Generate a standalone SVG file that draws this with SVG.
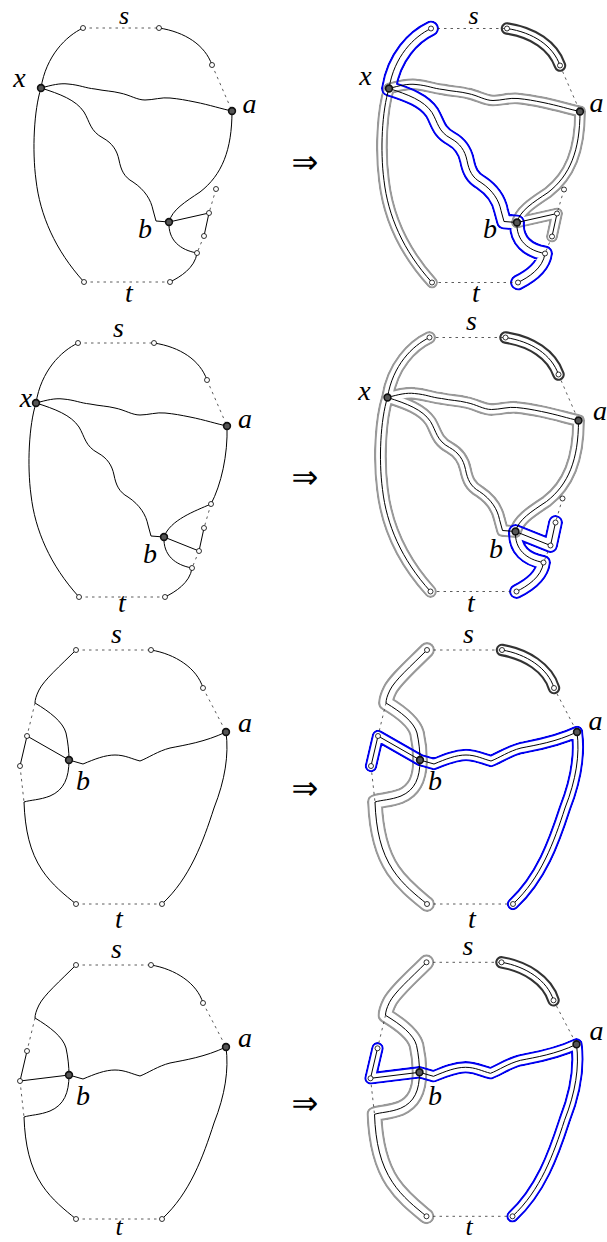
<svg xmlns="http://www.w3.org/2000/svg" xmlns:xlink="http://www.w3.org/1999/xlink" width="607" height="1242" viewBox="0 0 607 1242">
<style>
.e{fill:none;stroke:#000;stroke-width:1}
.d{fill:none;stroke:#333;stroke-width:0.8;stroke-dasharray:2.5 4}
.sn{fill:#fff;stroke:#000;stroke-width:0.8}
.bn{fill:#555;stroke:#111;stroke-width:1.6}
.lbl{font-family:"Liberation Serif",serif;font-style:italic;font-size:28px;text-anchor:middle;fill:#000}
.lbl2{font-family:"Liberation Serif",serif;font-style:italic;font-size:26px;text-anchor:middle;fill:#000}
.arr{font-family:"DejaVu Sans",sans-serif;font-size:32px;text-anchor:middle;fill:#000}
.bd{fill:none;stroke-linejoin:round;stroke-linecap:round}
</style>
<defs>
<circle id="sn" r="2.5"/>
<circle id="bn" r="3.4"/>
<path id="e1sx" d="M83,28 C66,36 46,56 41,88"/>
<path id="e1xa" d="M41,88 C52,85 60,83 68,84 C80,85 85,88 95,89 C105,91 112,91 120,93 C130,95 137,100 145,100 C153,100 162,97 170,98 C180,99 185,100 195,102 C210,105 222,109 232,111"/>
<path id="e1xb" d="M41,88 C60,94 76,100 84,112 C90,122 90,131 103,138 C112,143 117,150 119,160 C121,170 124,177 133,182 C145,190 151,200 153,210 L156,221 L169,222"/>
<path id="e1xt" d="M41,88 C34,110 32,150 36,180 C40,215 55,250 84,282"/>
<path id="e1s2p" d="M159,28 C185,32 205,45 212,65"/>
<path id="e1ab" d="M232,111 C232,150 222,175 200,192 C185,202 172,210 169,222"/>
<path id="e2ab" d="M232,111 C233,140 226,170 216,189 C200,196 175,205 169,222"/>
<path id="e1bq4" d="M169,222 C168,240 180,250 197,253"/>
<path id="e1q4t" d="M197,253 C195,268 180,277 170,282"/>
<path id="b1blue" d="M83,28 C66,36 46,56 41,88 C60,94 76,100 84,112 C90,122 90,131 103,138 C112,143 117,150 119,160 C121,170 124,177 133,182 C145,190 151,200 153,210 L156,221 L169,222 C168,240 180,250 197,253 C195,268 180,277 170,282"/>
<path id="b1gray" d="M84,282 C55,250 40,215 36,180 C32,150 34,110 41,88 C52,85 60,83 68,84 C80,85 85,88 95,89 C105,91 112,91 120,93 C130,95 137,100 145,100 C153,100 162,97 170,98 C180,99 185,100 195,102 C210,105 222,109 232,111 C232,150 222,175 200,192 C185,202 172,210 169,222 L209,213 L204,236"/>
<path id="b2gray" d="M83,28 C66,36 46,56 41,88 C34,110 32,150 36,180 C40,215 55,250 84,282 M41,88 C52,85 60,83 68,84 C80,85 85,88 95,89 C105,91 112,91 120,93 C130,95 137,100 145,100 C153,100 162,97 170,98 C180,99 185,100 195,102 C210,105 222,109 232,111 C232,150 222,175 200,192 C185,202 172,210 169,222 M41,88 C60,94 76,100 84,112 C90,122 90,131 103,138 C112,143 117,150 119,160 C121,170 124,177 133,182 C145,190 151,200 153,210 L156,221 L169,222"/>
<path id="b2blue" d="M209,213 L204,236 L169,222 C168,240 180,250 197,253 C195,268 180,277 170,282"/>
<path id="e3sj" d="M76,650 C60,666 44,680 39,690 C36,696 35,700 35,703"/>
<path id="e3jb" d="M35,703 C50,712 63,722 66,733 C68,742 69,752 69,760"/>
<path id="e3bj" d="M69,760 C69,778 64,790 50,796 C40,800 30,800 24,802"/>
<path id="e3jt" d="M24,802 C25,830 30,852 42,870 C52,885 65,895 76,904"/>
<path id="e3s2p" d="M151,650 C175,654 197,668 203,688"/>
<path id="e3ba" d="M69,760 L83,764 C95,759 105,755 115,755 C125,755 132,759 140,761 C148,758 158,751 170,748 C185,745 205,742 226,732"/>
<path id="e3at" d="M226,732 C229,755 225,780 214,808 C203,842 190,878 162,904"/>
<path id="b3gray" d="M76,650 C60,666 44,680 39,690 C36,696 35,700 35,703 C50,712 63,722 66,733 C68,742 69,752 69,760 C69,778 64,790 50,796 C40,800 30,800 24,802 C25,830 30,852 42,870 C52,885 65,895 76,904"/>
<path id="b3blue" d="M20,766 L27,736 L69,760 L83,764 C95,759 105,755 115,755 C125,755 132,759 140,761 C148,758 158,751 170,748 C185,745 205,742 226,732 C229,755 225,780 214,808 C203,842 190,878 162,904"/>
<path id="b4blue" d="M27,736 L20,766 L69,760 L83,764 C95,759 105,755 115,755 C125,755 132,759 140,761 C148,758 158,751 170,748 C185,745 205,742 226,732 C229,755 225,780 214,808 C203,842 190,878 162,904"/>
<mask id="m1g" maskUnits="userSpaceOnUse" x="-400" y="-100" width="1400" height="1500"><use href="#b1gray" class="bd" stroke="#fff" stroke-width="12"/><use href="#b1gray" class="bd" stroke="#000" stroke-width="7.6"/></mask>
<mask id="m1b" maskUnits="userSpaceOnUse" x="-400" y="-100" width="1400" height="1500"><use href="#b1blue" class="bd" stroke="#fff" stroke-width="16"/><use href="#b1blue" class="bd" stroke="#000" stroke-width="11.8"/></mask>
<mask id="m2g" maskUnits="userSpaceOnUse" x="-400" y="-100" width="1400" height="1500"><use href="#b2gray" class="bd" stroke="#fff" stroke-width="13"/><use href="#b2gray" class="bd" stroke="#000" stroke-width="8.6"/></mask>
<mask id="m2b" maskUnits="userSpaceOnUse" x="-400" y="-100" width="1400" height="1500"><use href="#b2blue" class="bd" stroke="#fff" stroke-width="15"/><use href="#b2blue" class="bd" stroke="#000" stroke-width="10.8"/></mask>
<mask id="m3g" maskUnits="userSpaceOnUse" x="-400" y="-100" width="1400" height="1500"><use href="#b3gray" class="bd" stroke="#fff" stroke-width="16"/><use href="#b3gray" class="bd" stroke="#000" stroke-width="11.6"/></mask>
<mask id="m3b" maskUnits="userSpaceOnUse" x="-400" y="-100" width="1400" height="1500"><use href="#b3blue" class="bd" stroke="#fff" stroke-width="12.5"/><use href="#b3blue" class="bd" stroke="#000" stroke-width="8.3"/></mask>
<mask id="m4b" maskUnits="userSpaceOnUse" x="-400" y="-100" width="1400" height="1500"><use href="#b4blue" class="bd" stroke="#fff" stroke-width="12.5"/><use href="#b4blue" class="bd" stroke="#000" stroke-width="8.3"/></mask>
</defs>
<rect width="607" height="1242" fill="#fff"/>

<!-- ===== Panel 1 left ===== -->
<g id="p1-left">
<g id="p1l-connectors">
<use href="#e1sx" class="e"/><use href="#e1xa" class="e"/><use href="#e1xb" class="e"/><use href="#e1xt" class="e"/>
<use href="#e1s2p" class="e"/><use href="#e1ab" class="e"/><use href="#e1bq4" class="e"/><use href="#e1q4t" class="e"/>
<path class="e" d="M169,222 L209,213 L204,236"/>
<path class="d" d="M83,28 L159,28 M84,282 L170,282 M212,65 L232,111 M216,189 L209,213 M204,236 L197,253"/>
</g>
<g id="p1l-s1"><use href="#sn" class="sn" x="83" y="28"/></g>
<g id="p1l-s2"><use href="#sn" class="sn" x="159" y="28"/></g>
<g id="p1l-p"><use href="#sn" class="sn" x="212" y="65"/></g>
<g id="p1l-q1"><use href="#sn" class="sn" x="216" y="189"/></g>
<g id="p1l-q2"><use href="#sn" class="sn" x="209" y="213"/></g>
<g id="p1l-q3"><use href="#sn" class="sn" x="204" y="236"/></g>
<g id="p1l-q4"><use href="#sn" class="sn" x="197" y="253"/></g>
<g id="p1l-t1"><use href="#sn" class="sn" x="84" y="282"/></g>
<g id="p1l-t2"><use href="#sn" class="sn" x="170" y="282"/></g>
<g id="p1l-x"><use href="#bn" class="bn" x="41" y="88"/></g>
<g id="p1l-a"><use href="#bn" class="bn" x="232" y="111"/></g>
<g id="p1l-b"><use href="#bn" class="bn" x="169" y="222"/></g>
</g>

<!-- ===== Panel 1 right ===== -->
<g id="p1-right" transform="translate(348,0.5)">
<g id="p1r-bands">
<use href="#b1gray" class="bd" stroke="#999" stroke-width="12" mask="url(#m1g)"/>
<use href="#b1blue" class="bd" stroke="#0000ee" stroke-width="16" mask="url(#m1b)"/>
<use href="#e1s2p" class="bd" stroke="#333" stroke-width="12.5"/>
<use href="#e1s2p" class="bd" stroke="#fff" stroke-width="8.3"/>
</g>
<g id="p1r-connectors">
<use href="#e1sx" class="e"/><use href="#e1xa" class="e"/><use href="#e1xb" class="e"/><use href="#e1xt" class="e"/>
<use href="#e1s2p" class="e"/><use href="#e1ab" class="e"/><use href="#e1bq4" class="e"/><use href="#e1q4t" class="e"/>
<path class="e" d="M169,222 L209,213 L204,236"/>
<path class="d" d="M83,28 L159,28 M84,282 L170,282 M212,65 L232,111 M216,189 L209,213 M204,236 L197,253"/>
</g>
<g id="p1r-s1"><use href="#sn" class="sn" x="83" y="28"/></g>
<g id="p1r-s2"><use href="#sn" class="sn" x="159" y="28"/></g>
<g id="p1r-p"><use href="#sn" class="sn" x="212" y="65"/></g>
<g id="p1r-q1"><use href="#sn" class="sn" x="216" y="189"/></g>
<g id="p1r-q2"><use href="#sn" class="sn" x="209" y="213"/></g>
<g id="p1r-q3"><use href="#sn" class="sn" x="204" y="236"/></g>
<g id="p1r-q4"><use href="#sn" class="sn" x="197" y="253"/></g>
<g id="p1r-t1"><use href="#sn" class="sn" x="84" y="282"/></g>
<g id="p1r-t2"><use href="#sn" class="sn" x="170" y="282"/></g>
<g id="p1r-x"><use href="#bn" class="bn" x="41" y="88"/></g>
<g id="p1r-a"><use href="#bn" class="bn" x="232" y="111"/></g>
<g id="p1r-b"><use href="#bn" class="bn" x="169" y="222"/></g>
</g>

<!-- ===== Panel 2 left ===== -->
<g id="p2-left" transform="translate(-5,315)">
<g id="p2l-connectors">
<use href="#e1sx" class="e"/><use href="#e1xa" class="e"/><use href="#e1xb" class="e"/><use href="#e1xt" class="e"/>
<use href="#e1s2p" class="e"/><use href="#e2ab" class="e"/><use href="#e1bq4" class="e"/><use href="#e1q4t" class="e"/>
<path class="e" d="M169,222 L204,236 L209,213"/>
<path class="d" d="M83,28 L159,28 M84,282 L170,282 M212,65 L232,111 M216,189 L209,213 M204,236 L197,253"/>
</g>
<g id="p2l-s1"><use href="#sn" class="sn" x="83" y="28"/></g>
<g id="p2l-s2"><use href="#sn" class="sn" x="159" y="28"/></g>
<g id="p2l-p"><use href="#sn" class="sn" x="212" y="65"/></g>
<g id="p2l-q1"><use href="#sn" class="sn" x="216" y="189"/></g>
<g id="p2l-q2"><use href="#sn" class="sn" x="209" y="213"/></g>
<g id="p2l-q3"><use href="#sn" class="sn" x="204" y="236"/></g>
<g id="p2l-q4"><use href="#sn" class="sn" x="197" y="253"/></g>
<g id="p2l-t1"><use href="#sn" class="sn" x="84" y="282"/></g>
<g id="p2l-t2"><use href="#sn" class="sn" x="170" y="282"/></g>
<g id="p2l-x"><use href="#bn" class="bn" x="41" y="88"/></g>
<g id="p2l-a"><use href="#bn" class="bn" x="232" y="111"/></g>
<g id="p2l-b"><use href="#bn" class="bn" x="169" y="222"/></g>
</g>

<!-- ===== Panel 2 right ===== -->
<g id="p2-right" transform="translate(346.5,309.5)">
<g id="p2r-bands">
<use href="#b2gray" class="bd" stroke="#999" stroke-width="13" mask="url(#m2g)"/>
<use href="#b2blue" class="bd" stroke="#0000ee" stroke-width="15" mask="url(#m2b)"/>
<use href="#e1s2p" class="bd" stroke="#333" stroke-width="12.5"/>
<use href="#e1s2p" class="bd" stroke="#fff" stroke-width="8.3"/>
</g>
<g id="p2r-connectors">
<use href="#e1sx" class="e"/><use href="#e1xa" class="e"/><use href="#e1xb" class="e"/><use href="#e1xt" class="e"/>
<use href="#e1s2p" class="e"/><use href="#e1ab" class="e"/><use href="#e1bq4" class="e"/><use href="#e1q4t" class="e"/>
<path class="e" d="M169,222 L204,236 L209,213"/>
<path class="d" d="M83,28 L159,28 M84,282 L170,282 M212,65 L232,111 M216,189 L209,213 M204,236 L197,253"/>
</g>
<g id="p2r-s1"><use href="#sn" class="sn" x="83" y="28"/></g>
<g id="p2r-s2"><use href="#sn" class="sn" x="159" y="28"/></g>
<g id="p2r-p"><use href="#sn" class="sn" x="212" y="65"/></g>
<g id="p2r-q1"><use href="#sn" class="sn" x="216" y="189"/></g>
<g id="p2r-q2"><use href="#sn" class="sn" x="209" y="213"/></g>
<g id="p2r-q3"><use href="#sn" class="sn" x="204" y="236"/></g>
<g id="p2r-q4"><use href="#sn" class="sn" x="197" y="253"/></g>
<g id="p2r-t1"><use href="#sn" class="sn" x="84" y="282"/></g>
<g id="p2r-t2"><use href="#sn" class="sn" x="170" y="282"/></g>
<g id="p2r-x"><use href="#bn" class="bn" x="41" y="88"/></g>
<g id="p2r-a"><use href="#bn" class="bn" x="232" y="111"/></g>
<g id="p2r-b"><use href="#bn" class="bn" x="169" y="222"/></g>
</g>

<!-- ===== Panel 3 left ===== -->
<g id="p3-left">
<g id="p3l-connectors">
<use href="#e3sj" class="e"/><use href="#e3jb" class="e"/><use href="#e3bj" class="e"/><use href="#e3jt" class="e"/>
<use href="#e3s2p" class="e"/><use href="#e3ba" class="e"/><use href="#e3at" class="e"/>
<path class="e" d="M69,760 L27,736 L20,766"/>
<path class="d" d="M76,650 L151,650 M76,904 L162,904 M203,688 L226,732 M35,703 L27,736 M20,766 L24,802"/>
</g>
<g id="p3l-s1"><use href="#sn" class="sn" x="76" y="650"/></g>
<g id="p3l-s2"><use href="#sn" class="sn" x="151" y="650"/></g>
<g id="p3l-p"><use href="#sn" class="sn" x="203" y="688"/></g>
<g id="p3l-r1"><use href="#sn" class="sn" x="27" y="736"/></g>
<g id="p3l-r2"><use href="#sn" class="sn" x="20" y="766"/></g>
<g id="p3l-t1"><use href="#sn" class="sn" x="76" y="904"/></g>
<g id="p3l-t2"><use href="#sn" class="sn" x="162" y="904"/></g>
<g id="p3l-a"><use href="#bn" class="bn" x="226" y="732"/></g>
<g id="p3l-b"><use href="#bn" class="bn" x="69" y="760"/></g>
</g>

<!-- ===== Panel 3 right ===== -->
<g id="p3-right" transform="translate(351,0)">
<g id="p3r-bands">
<use href="#b3gray" class="bd" stroke="#999" stroke-width="16" mask="url(#m3g)"/>
<use href="#b3blue" class="bd" stroke="#0000ee" stroke-width="12.5" mask="url(#m3b)"/>
<use href="#e3s2p" class="bd" stroke="#333" stroke-width="12.5"/>
<use href="#e3s2p" class="bd" stroke="#fff" stroke-width="8.3"/>
</g>
<g id="p3r-connectors">
<use href="#e3sj" class="e"/><use href="#e3jb" class="e"/><use href="#e3bj" class="e"/><use href="#e3jt" class="e"/>
<use href="#e3s2p" class="e"/><use href="#e3ba" class="e"/><use href="#e3at" class="e"/>
<path class="e" d="M69,760 L27,736 L20,766"/>
<path class="d" d="M76,650 L151,650 M76,904 L162,904 M203,688 L226,732 M35,703 L27,736 M20,766 L24,802"/>
</g>
<g id="p3r-s1"><use href="#sn" class="sn" x="76" y="650"/></g>
<g id="p3r-s2"><use href="#sn" class="sn" x="151" y="650"/></g>
<g id="p3r-p"><use href="#sn" class="sn" x="203" y="688"/></g>
<g id="p3r-r1"><use href="#sn" class="sn" x="27" y="736"/></g>
<g id="p3r-r2"><use href="#sn" class="sn" x="20" y="766"/></g>
<g id="p3r-t1"><use href="#sn" class="sn" x="76" y="904"/></g>
<g id="p3r-t2"><use href="#sn" class="sn" x="162" y="904"/></g>
<g id="p3r-a"><use href="#bn" class="bn" x="226" y="732"/></g>
<g id="p3r-b"><use href="#bn" class="bn" x="69" y="760"/></g>
</g>

<!-- ===== Panel 4 left ===== -->
<g id="p4-left" transform="translate(0,315)">
<g id="p4l-connectors">
<use href="#e3sj" class="e"/><use href="#e3jb" class="e"/><use href="#e3bj" class="e"/><use href="#e3jt" class="e"/>
<use href="#e3s2p" class="e"/><use href="#e3ba" class="e"/><use href="#e3at" class="e"/>
<path class="e" d="M69,760 L20,766 L27,736"/>
<path class="d" d="M76,650 L151,650 M76,904 L162,904 M203,688 L226,732 M35,703 L27,736 M20,766 L24,802"/>
</g>
<g id="p4l-s1"><use href="#sn" class="sn" x="76" y="650"/></g>
<g id="p4l-s2"><use href="#sn" class="sn" x="151" y="650"/></g>
<g id="p4l-p"><use href="#sn" class="sn" x="203" y="688"/></g>
<g id="p4l-r1"><use href="#sn" class="sn" x="27" y="736"/></g>
<g id="p4l-r2"><use href="#sn" class="sn" x="20" y="766"/></g>
<g id="p4l-t1"><use href="#sn" class="sn" x="76" y="904"/></g>
<g id="p4l-t2"><use href="#sn" class="sn" x="162" y="904"/></g>
<g id="p4l-a"><use href="#bn" class="bn" x="226" y="732"/></g>
<g id="p4l-b"><use href="#bn" class="bn" x="69" y="760"/></g>
</g>

<!-- ===== Panel 4 right ===== -->
<g id="p4-right" transform="translate(350.5,312.3)">
<g id="p4r-bands">
<use href="#b3gray" class="bd" stroke="#999" stroke-width="16" mask="url(#m3g)"/>
<use href="#b4blue" class="bd" stroke="#0000ee" stroke-width="12.5" mask="url(#m4b)"/>
<use href="#e3s2p" class="bd" stroke="#333" stroke-width="12.5"/>
<use href="#e3s2p" class="bd" stroke="#fff" stroke-width="8.3"/>
</g>
<g id="p4r-connectors">
<use href="#e3sj" class="e"/><use href="#e3jb" class="e"/><use href="#e3bj" class="e"/><use href="#e3jt" class="e"/>
<use href="#e3s2p" class="e"/><use href="#e3ba" class="e"/><use href="#e3at" class="e"/>
<path class="e" d="M69,760 L20,766 L27,736"/>
<path class="d" d="M76,650 L151,650 M76,904 L162,904 M203,688 L226,732 M35,703 L27,736 M20,766 L24,802"/>
</g>
<g id="p4r-s1"><use href="#sn" class="sn" x="76" y="650"/></g>
<g id="p4r-s2"><use href="#sn" class="sn" x="151" y="650"/></g>
<g id="p4r-p"><use href="#sn" class="sn" x="203" y="688"/></g>
<g id="p4r-r1"><use href="#sn" class="sn" x="27" y="736"/></g>
<g id="p4r-r2"><use href="#sn" class="sn" x="20" y="766"/></g>
<g id="p4r-t1"><use href="#sn" class="sn" x="76" y="904"/></g>
<g id="p4r-t2"><use href="#sn" class="sn" x="162" y="904"/></g>
<g id="p4r-a"><use href="#bn" class="bn" x="226" y="732"/></g>
<g id="p4r-b"><use href="#bn" class="bn" x="69" y="760"/></g>
</g>

<!-- ===== Labels ===== -->
<g id="labels">
<text class="lbl2" x="124" y="23.5">s</text><text class="lbl" x="19.5" y="87">x</text><text class="lbl" x="249.5" y="113">a</text><text class="lbl" x="145" y="238">b</text><text class="lbl" x="129" y="302">t</text>
<text class="lbl2" x="473.5" y="23.5">s</text><text class="lbl" x="365.5" y="85">x</text><text class="lbl" x="596.5" y="112">a</text><text class="lbl" x="490" y="238">b</text><text class="lbl" x="476" y="302">t</text>
<text class="lbl" x="118.5" y="337">s</text><text class="lbl" x="26" y="407">x</text><text class="lbl" x="245" y="428">a</text><text class="lbl" x="150" y="563">b</text><text class="lbl" x="122" y="612">t</text>
<text class="lbl" x="471.5" y="330">s</text><text class="lbl" x="364.5" y="400">x</text><text class="lbl" x="600" y="420">a</text><text class="lbl" x="496" y="558">b</text><text class="lbl" x="471" y="612">t</text>
<text class="lbl" x="116.5" y="643">s</text><text class="lbl" x="245" y="732">a</text><text class="lbl" x="83" y="790">b</text><text class="lbl" x="119" y="928">t</text>
<text class="lbl" x="468.5" y="643">s</text><text class="lbl" x="595.5" y="730">a</text><text class="lbl" x="435" y="790">b</text><text class="lbl" x="472" y="928">t</text>
<text class="lbl" x="116.5" y="958">s</text><text class="lbl" x="245" y="1047">a</text><text class="lbl" x="83" y="1105">b</text><text class="lbl2" x="119" y="1235">t</text>
<text class="lbl" x="468" y="955">s</text><text class="lbl" x="596.5" y="1040">a</text><text class="lbl" x="435" y="1105">b</text><text class="lbl2" x="469" y="1235">t</text>
<text class="arr" x="305" y="173">⇒</text>
<text class="arr" x="305" y="488">⇒</text>
<text class="arr" x="305" y="799">⇒</text>
<text class="arr" x="305" y="1114">⇒</text>
</g>
</svg>
